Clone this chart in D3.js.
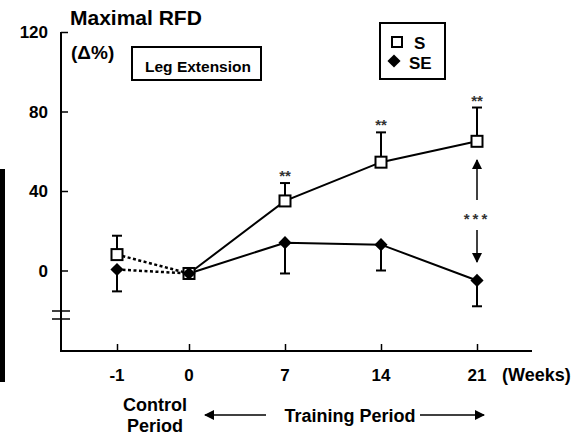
<!DOCTYPE html>
<html>
<head>
<meta charset="utf-8">
<script src="https://cdn.jsdelivr.net/npm/d3@7"></script>
<style>
  body { margin: 0; background: #fff; }
  text { font-family: "Liberation Sans", Arial, sans-serif; font-weight: bold; fill: #000; }
</style>
</head>
<body>
<svg id="chart" width="576" height="435"></svg>
<script>
// data
var weeks = [-1, 0, 7, 14, 21];
var weekLabels = ['-1', '0', '7', '14', '21'];
var sMean = [8, -1.5, 35, 54.5, 65];
var sErr = [9.5, 0, 9, 15, 17];
var seMean = [0.5, -1.5, 14, 13, -5];
var seErr = [11, 0, 15.5, 13, 13];
var sigWeeks = [7, 14, 21];
var yTicks = [0, 40, 80, 120];

var svg = d3.select('#chart');

// -1 sits closer to 0 than the weekly spacing
var x = d3.scaleLinear()
  .domain([-1, 0, 21])
  .range([117, 189, 477]);

var y = d3.scaleLinear()
  .domain([-40, 120])
  .range([350, 32]);

// stray bar from the neighbouring panel
svg.append('rect')
  .attr('x', 0).attr('y', 169)
  .attr('width', 5).attr('height', 213)
  .attr('fill', '#000');

// axes
var axisY = d3.axisRight(y)
  .tickValues(yTicks)
  .tickSize(7)
  .tickFormat('');

var gy = svg.append('g')
  .attr('transform', 'translate(61,0)')
  .call(axisY);
gy.select('.domain').remove();
gy.selectAll('line').attr('stroke-width', 1.5);

svg.append('line')
  .attr('x1', 61).attr('x2', 61)
  .attr('y1', y(120)).attr('y2', 351)
  .attr('stroke', '#000').attr('stroke-width', 2);

svg.selectAll('.ylab')
  .data(yTicks)
  .enter()
  .append('text')
    .attr('class', 'ylab')
    .attr('x', 48)
    .attr('y', function(d) { return y(d) + 6; })
    .attr('text-anchor', 'end')
    .style('font-size', '17px')
    .text(function(d) { return d; });

// axis break marks
[311, 319].forEach(function(yy) {
  svg.append('line')
    .attr('x1', 52).attr('x2', 70)
    .attr('y1', yy).attr('y2', yy)
    .attr('stroke', '#000').attr('stroke-width', 1.5);
});

var axisX = d3.axisTop(x)
  .tickValues(weeks)
  .tickSize(7)
  .tickFormat('');

var gx = svg.append('g')
  .attr('transform', 'translate(0,351)')
  .call(axisX);
gx.select('.domain').remove();
gx.selectAll('line').attr('stroke-width', 1.5);

svg.append('line')
  .attr('x1', 60).attr('x2', 532)
  .attr('y1', 351).attr('y2', 351)
  .attr('stroke', '#000').attr('stroke-width', 2);

svg.selectAll('.xlab')
  .data(weeks)
  .enter()
  .append('text')
    .attr('class', 'xlab')
    .attr('x', function(d) { return x(d); })
    .attr('y', 381)
    .attr('text-anchor', 'middle')
    .style('font-size', '17px')
    .text(function(d, i) { return weekLabels[i]; });

svg.append('text')
  .attr('x', 502).attr('y', 381)
  .style('font-size', '18px')
  .text('(Weeks)');

// lines
function pts(means) {
  return weeks.map(function(w, i) { return [x(w), y(means[i])]; });
}
var line = d3.line();

[sMean, seMean].forEach(function(m) {
  var p = pts(m);
  svg.append('path')
    .attr('d', line(p.slice(0, 2)))
    .attr('fill', 'none')
    .attr('stroke', '#000')
    .attr('stroke-width', 2.5)
    .attr('stroke-dasharray', '3,2.5');
  svg.append('path')
    .attr('d', line(p.slice(1)))
    .attr('fill', 'none')
    .attr('stroke', '#000')
    .attr('stroke-width', 2);
});

// error bars: S upwards, SE downwards
function errBars(means, errs, dir) {
  weeks.forEach(function(w, i) {
    if (errs[i] === 0) return;
    var end = y(means[i] + dir * errs[i]);
    svg.append('line')
      .attr('x1', x(w)).attr('x2', x(w))
      .attr('y1', y(means[i])).attr('y2', end)
      .attr('stroke', '#000').attr('stroke-width', 2);
    svg.append('line')
      .attr('x1', x(w) - 5).attr('x2', x(w) + 5)
      .attr('y1', end).attr('y2', end)
      .attr('stroke', '#000').attr('stroke-width', 2);
  });
}
errBars(sMean, sErr, 1);
errBars(seMean, seErr, -1);

// markers
var diamond = d3.symbol().type(d3.symbolDiamond2).size(110);

svg.selectAll('.sq')
  .data(weeks)
  .enter()
  .append('rect')
    .attr('class', 'sq')
    .attr('x', function(d) { return x(d) - 5.5; })
    .attr('y', function(d, i) { return y(sMean[i]) - 5.5; })
    .attr('width', 11).attr('height', 11)
    .attr('fill', '#fff')
    .attr('stroke', '#000')
    .attr('stroke-width', 2);

svg.selectAll('.dm')
  .data(weeks)
  .enter()
  .append('path')
    .attr('class', 'dm')
    .attr('d', diamond)
    .attr('transform', function(d, i) {
      return 'translate(' + x(d) + ',' + y(seMean[i]) + ')';
    })
    .attr('fill', '#000');

// significance stars
svg.selectAll('.star')
  .data(sigWeeks)
  .enter()
  .append('text')
    .attr('class', 'star')
    .attr('x', function(d) { return x(d); })
    .attr('y', function(d) {
      var i = weeks.indexOf(d);
      return y(sMean[i] + sErr[i]) - 2;
    })
    .attr('text-anchor', 'middle')
    .style('font-size', '15px')
    .style('fill', '#333')
    .text('**');

// between-group arrows at week 21
var defs = svg.append('defs');
defs.append('marker')
  .attr('id', 'head')
  .attr('viewBox', '0 0 10 10')
  .attr('refX', 9).attr('refY', 5)
  .attr('markerWidth', 10).attr('markerHeight', 10)
  .attr('markerUnits', 'userSpaceOnUse')
  .attr('orient', 'auto')
  .append('path')
    .attr('d', 'M0,0 L10,5 L0,10 Z')
    .attr('fill', '#000');

var ax = x(21);
svg.append('line')
  .attr('x1', ax).attr('x2', ax)
  .attr('y1', 200).attr('y2', 160)
  .attr('stroke', '#000').attr('stroke-width', 1.5)
  .attr('marker-end', 'url(#head)');
svg.append('line')
  .attr('x1', ax).attr('x2', ax)
  .attr('y1', 230).attr('y2', 262)
  .attr('stroke', '#000').attr('stroke-width', 1.5)
  .attr('marker-end', 'url(#head)');
svg.append('text')
  .attr('x', ax).attr('y', 224)
  .attr('text-anchor', 'middle')
  .style('font-size', '15px')
  .style('letter-spacing', '3px')
  .style('fill', '#333')
  .text('***');

// titles and boxes
svg.append('text')
  .attr('x', 70).attr('y', 25)
  .style('font-size', '21px')
  .text('Maximal RFD');

svg.append('text')
  .attr('x', 71).attr('y', 59)
  .style('font-size', '19px')
  .text('(\u0394%)');

svg.append('rect')
  .attr('x', 132).attr('y', 47)
  .attr('width', 129).attr('height', 33)
  .attr('fill', 'none')
  .attr('stroke', '#000').attr('stroke-width', 2);
svg.append('text')
  .attr('x', 198).attr('y', 72)
  .attr('text-anchor', 'middle')
  .style('font-size', '15.5px')
  .text('Leg Extension');

// legend
svg.append('rect')
  .attr('x', 380).attr('y', 23)
  .attr('width', 65).attr('height', 56)
  .attr('fill', 'none')
  .attr('stroke', '#000').attr('stroke-width', 2);
svg.append('rect')
  .attr('x', 392).attr('y', 37)
  .attr('width', 10).attr('height', 10)
  .attr('fill', '#fff')
  .attr('stroke', '#000').attr('stroke-width', 2);
svg.append('path')
  .attr('d', diamond)
  .attr('transform', 'translate(394,61)')
  .attr('fill', '#000');
svg.append('text')
  .attr('x', 414).attr('y', 49)
  .style('font-size', '17px')
  .text('S');
svg.append('text')
  .attr('x', 409).attr('y', 69)
  .style('font-size', '17px')
  .text('SE');

// period labels
svg.append('text')
  .attr('x', 155).attr('y', 411)
  .attr('text-anchor', 'middle')
  .style('font-size', '18px')
  .text('Control');
svg.append('text')
  .attr('x', 155).attr('y', 432)
  .attr('text-anchor', 'middle')
  .style('font-size', '18px')
  .text('Period');
svg.append('text')
  .attr('x', 350).attr('y', 422)
  .attr('text-anchor', 'middle')
  .style('font-size', '18px')
  .text('Training Period');

svg.append('line')
  .attr('x1', 266).attr('x2', 205)
  .attr('y1', 415).attr('y2', 415)
  .attr('stroke', '#000').attr('stroke-width', 1.5)
  .attr('marker-end', 'url(#head)');
svg.append('line')
  .attr('x1', 420).attr('x2', 484)
  .attr('y1', 415).attr('y2', 415)
  .attr('stroke', '#000').attr('stroke-width', 1.5)
  .attr('marker-end', 'url(#head)');
</script>
</body>
</html>
